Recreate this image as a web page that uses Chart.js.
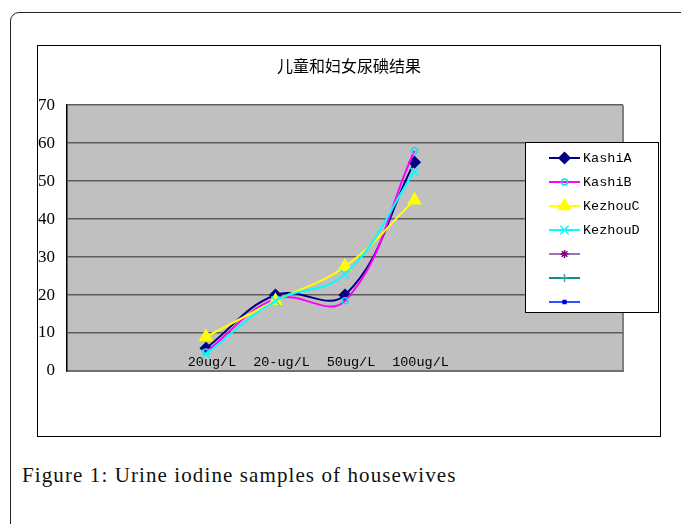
<!DOCTYPE html>
<html>
<head>
<meta charset="utf-8">
<script src="https://cdn.jsdelivr.net/npm/chart.js@4.4.1/dist/chart.umd.min.js"></script>
<style>
  body { margin: 0; width: 681px; height: 524px; overflow: hidden; background: #fff; position: relative; }
  #frame { position: absolute; left: 10px; top: 12px; width: 720px; height: 600px;
           border: 1.5px solid #222; border-top-left-radius: 9px; }
  #box { position: absolute; left: 37px; top: 45px; width: 622px; height: 390px;
         border: 1px solid #000; background: #fff; }
  #chart { position: absolute; left: 0; top: 0; }
  #legend { position: absolute; left: 525px; top: 142px; width: 134px; height: 171px;
            border: 1px solid #000; background: #fff; padding-top: 3px; box-sizing: border-box;
            font: 13.5px "Liberation Mono", monospace; color: #000; }
  #legend .row { height: 24px; display: flex; align-items: center; }
  #legend canvas { margin-left: 22px; margin-right: 1px; }
  #caption { position: absolute; left: 22px; top: 463px; font: 21px "Liberation Serif", serif;
             letter-spacing: 1.1px; color: #111; }
</style>
</head>
<body>
<div id="frame"></div>
<div id="box"><canvas id="chart" width="622" height="390"></canvas></div>
<div id="legend"></div>
<div id="caption">Figure 1: Urine iodine samples of housewives</div>
<script>
// values
const categories = ['20ug/L', '20-ug/L', '50ug/L', '100ug/L'];
const kashiA = [6, 20, 20, 55];
const kashiB = [5, 19, 18.5, 58];
const kezhouC = [9, 18.5, 27.5, 45];
const kezhouD = [4.5, 18.5, 25.5, 52.5];
const yMin = 0, yMax = 70, yStep = 10;

// the excel axis has empty slots around the four categories
const lead = 2, trail = 3;
const labels = [...Array(lead).fill(''), ...categories, ...Array(trail).fill('')];
const pad = v => [...Array(lead).fill(null), ...v, ...Array(trail).fill(null)];

const datasets = [
  { label: 'KashiA', data: pad(kashiA), borderColor: '#000080', pointBackgroundColor: '#000080',
    pointBorderColor: '#000080', pointStyle: 'rectRot', pointRadius: 5.5, order: 4 },
  { label: 'KashiB', data: pad(kashiB), borderColor: '#ff00ff', pointBackgroundColor: 'transparent',
    pointBorderColor: '#00e5ee', pointStyle: 'circle', pointRadius: 3, order: 3 },
  { label: 'KezhouC', data: pad(kezhouC), borderColor: '#ffff00', pointBackgroundColor: '#ffff00',
    pointBorderColor: '#ffff00', pointStyle: 'triangle', pointRadius: 7, order: 2 },
  { label: 'KezhouD', data: pad(kezhouD), borderColor: '#00ffff', pointBackgroundColor: '#00ffff',
    pointBorderColor: '#00ffff', pointStyle: 'crossRot', pointRadius: 6, order: 1 },
  { label: '', data: [], borderColor: '#a070b8', pointBorderColor: '#800080', pointBackgroundColor: '#800080',
    pointStyle: 'star', pointRadius: 4 },
  { label: '', data: [], borderColor: '#108c8c', pointBorderColor: '#40a0a0', pointBackgroundColor: '#40a0a0',
    pointStyle: 'cross', pointRadius: 4 },
  { label: '', data: [], borderColor: '#3050ff', pointBorderColor: '#0000d0', pointBackgroundColor: '#0000d0',
    pointStyle: 'rect', pointRadius: 2 }
];
datasets.forEach(d => {
  d.borderWidth = 2;
  d.pointBorderWidth = 1.5;
  d.tension = 0.4;
  d.spanGaps = true;
});

const plotBg = {
  id: 'plotBg',
  beforeDraw(chart) {
    const { ctx, chartArea: a } = chart;
    ctx.save();
    ctx.fillStyle = '#c0c0c0';
    ctx.fillRect(a.left, a.top, a.right - a.left, a.bottom - a.top);
    ctx.strokeStyle = '#808080';
    ctx.lineWidth = 2;
    ctx.beginPath();
    ctx.moveTo(a.right, a.top);
    ctx.lineTo(a.right, a.bottom);
    ctx.stroke();
    ctx.restore();
  }
};

const chart = new Chart(document.getElementById('chart'), {
  type: 'line',
  data: { labels, datasets },
  options: {
    responsive: false,
    animation: false,
    layout: { padding: 0 },
    plugins: {
      legend: { display: false },
      tooltip: { enabled: false },
      title: {
        display: true,
        text: '儿童和妇女尿碘结果',
        color: '#000',
        font: { family: '"Noto Sans CJK SC"', size: 16, weight: 'normal' },
        padding: { top: 10, bottom: 30 }
      }
    },
    scales: {
      x: {
        grid: { display: false, drawTicks: false },
        border: { color: '#707070', width: 2 },
        ticks: {
          autoSkip: false, maxRotation: 0, mirror: true, padding: 0, labelOffset: 6, color: '#000',
          font: { family: '"Liberation Mono"', size: 13.5 }
        },
        afterFit: s => { s.height = 65; }
      },
      y: {
        min: yMin, max: yMax,
        grid: { color: '#5c5c5c', lineWidth: 1.5, drawTicks: false },
        border: { color: '#000', width: 1.5 },
        ticks: {
          stepSize: yStep, padding: 12, color: '#000',
          font: { family: '"Liberation Serif"', size: 17 }
        },
        afterFit: s => { s.width = 29; }
      },
      // empty space on the right, so the title stays centred on the whole box
      spacer: {
        position: 'right', display: true,
        grid: { display: false, drawTicks: false },
        border: { display: false },
        ticks: { display: false },
        afterFit: s => { s.width = 37; }
      }
    }
  },
  plugins: [plotBg]
});

// legend in the excel style: short line with the marker on it
const legendEl = document.getElementById('legend');
chart.data.datasets.forEach(d => {
  const row = document.createElement('div');
  row.className = 'row';
  const c = document.createElement('canvas');
  c.width = 34; c.height = 24;
  const g = c.getContext('2d');
  g.strokeStyle = d.borderColor;
  g.lineWidth = 2;
  g.beginPath(); g.moveTo(1, 12); g.lineTo(32, 12); g.stroke();
  g.fillStyle = d.pointBackgroundColor;
  g.strokeStyle = d.pointBorderColor;
  g.lineWidth = 1.5;
  if (Chart.helpers && Chart.helpers.drawPoint) {
    Chart.helpers.drawPoint(g, { pointStyle: d.pointStyle, radius: d.pointRadius, rotation: 0, borderWidth: 1.5 }, 16.5, 12);
  } else {
    g.beginPath(); g.arc(16.5, 12, d.pointRadius, 0, Math.PI * 2); g.fill(); g.stroke();
  }
  const t = document.createElement('span');
  t.textContent = d.label;
  row.appendChild(c);
  row.appendChild(t);
  legendEl.appendChild(row);
});
</script>
</body>
</html>
